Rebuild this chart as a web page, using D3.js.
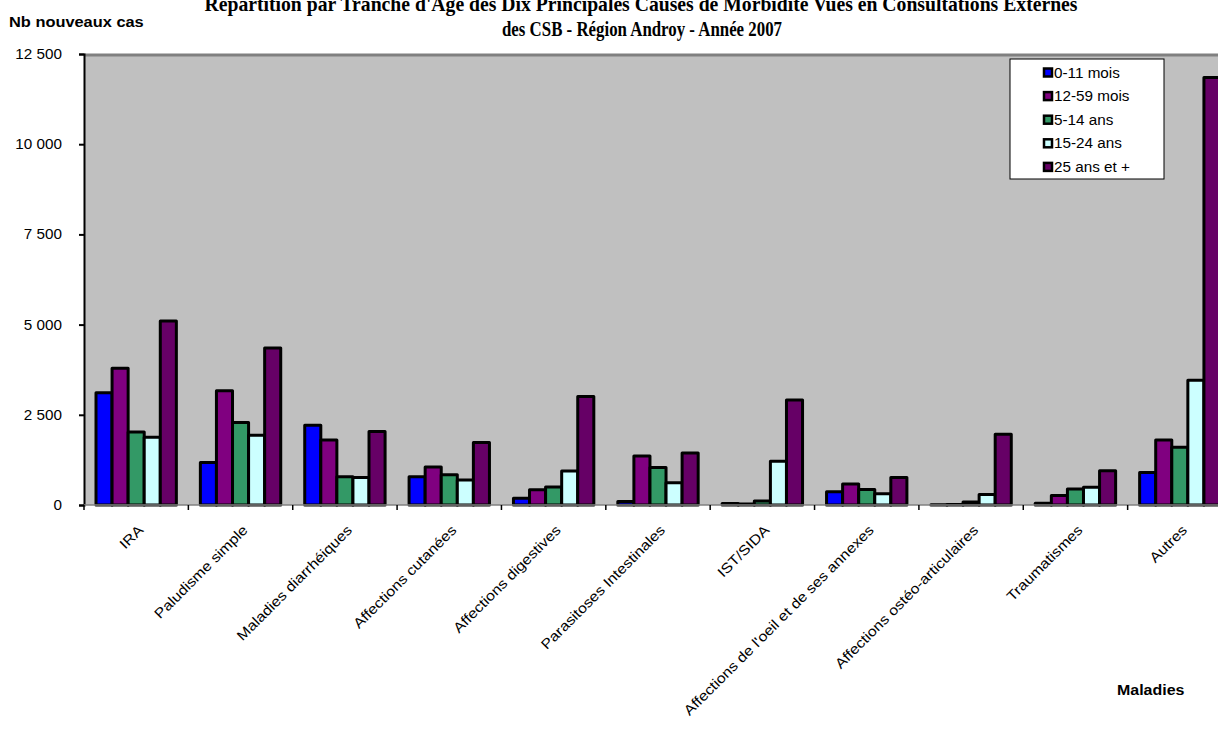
<!DOCTYPE html>
<html>
<head>
<meta charset="utf-8">
<script src="https://cdn.jsdelivr.net/npm/d3@7"></script>
<style>
  body { margin: 0; background: #fff; }
  svg { display: block; }
</style>
</head>
<body>
<div id="chart"></div>
<script>
const width = 1218,
    height = 753;

// Données
const maladies = ["IRA", "Paludisme simple", "Maladies diarrhéiques", "Affections cutanées",
    "Affections digestives", "Parasitoses Intestinales", "IST/SIDA",
    "Affections de l'oeil et de ses annexes", "Affections ostéo-articulaires", "Traumatismes", "Autres"];
const tranches = ["0-11 mois", "12-59 mois", "5-14 ans", "15-24 ans", "25 ans et +"];
const couleurs = ["#0000FF", "#800080", "#339966", "#CCFFFF", "#660066"];

const cas0_11 = [3110, 1180, 2210, 780, 190, 100, 40, 370, 10, 50, 900];
const cas12_59 = [3790, 3170, 1800, 1050, 420, 1360, 30, 580, 15, 260, 1800];
const cas5_14 = [2020, 2290, 780, 840, 500, 1040, 110, 430, 80, 440, 1600];
const cas15_24 = [1880, 1930, 760, 690, 940, 620, 1210, 310, 290, 490, 3460];
const cas25plus = [5100, 4350, 2040, 1730, 3010, 1440, 2910, 760, 1960, 950, 11850];
const series = [cas0_11, cas12_59, cas5_14, cas15_24, cas25plus];

const yTicks = [0, 2500, 5000, 7500, 10000, 12500];

const margin = { left: 84, top: 54 },
    plotW = 1148,
    plotH = 451;

// Ajuste la largeur du texte à celle du graphique d'origine
function stretch(sel, k) {
    sel.each(function () {
        const w = this.getComputedTextLength();
        d3.select(this).attr("textLength", w * k).attr("lengthAdjust", "spacingAndGlyphs");
    });
}

const svg = d3.select("#chart")
    .append("svg")
    .attr("width", width)
    .attr("height", height)
    .style("font-family", "Arial, 'Liberation Sans', sans-serif");

const x0 = d3.scaleBand()
    .domain(maladies)
    .range([0, plotW]);

const x1 = d3.scaleBand()
    .domain(d3.range(tranches.length))
    .range([x0.bandwidth() * 0.115, x0.bandwidth() * 0.885]);

const y = d3.scaleLinear()
    .domain([0, 12500])
    .range([plotH, 0]);

const g = svg.append("g")
    .attr("transform", `translate(${margin.left},${margin.top})`);

// Fond gris
g.append("rect")
    .attr("width", plotW)
    .attr("height", plotH)
    .attr("fill", "#C0C0C0");

g.append("line")
    .attr("x1", 0).attr("x2", plotW)
    .attr("y1", 1).attr("y2", 1)
    .attr("stroke", "#808080")
    .attr("stroke-width", 3);

// Barres
maladies.forEach((m, i) => {
    const grp = g.append("g").attr("transform", `translate(${x0(m)},0)`);
    grp.selectAll("rect")
        .data(series.map((s, k) => ({ k: k, v: s[i] })))
        .enter()
        .append("rect")
        .attr("x", d => x1(d.k))
        .attr("y", d => y(d.v))
        .attr("width", x1.bandwidth())
        .attr("height", d => plotH - y(d.v))
        .attr("fill", d => couleurs[d.k])
        .attr("stroke", "#000")
        .attr("stroke-width", 3)
        .attr("stroke-linejoin", "round");
});

// Axe Y
const fmt = v => d3.format(",")(v).replace(/,/g, " ");
const yAxis = d3.axisLeft(y)
    .tickValues(yTicks)
    .tickSize(5)
    .tickPadding(17)
    .tickFormat(fmt);

const ya = g.append("g").call(yAxis);
ya.select(".domain").attr("stroke", "#000").attr("stroke-width", 2);
ya.selectAll(".tick line").attr("stroke", "#000").attr("stroke-width", 2);
ya.selectAll(".tick text")
    .style("font-size", "14px")
    .attr("fill", "#000")
    .call(stretch, 1.09);

// Axe X
g.append("line")
    .attr("x1", 0).attr("x2", plotW)
    .attr("y1", plotH).attr("y2", plotH)
    .attr("stroke", "#808080")
    .attr("stroke-width", 1.5);

g.selectAll(".xtick")
    .data(maladies)
    .enter()
    .append("line")
    .attr("x1", d => x0(d)).attr("x2", d => x0(d))
    .attr("y1", plotH).attr("y2", plotH + 5)
    .attr("stroke", "#000")
    .attr("stroke-width", 1.5);

g.selectAll(".xlabel")
    .data(maladies)
    .enter()
    .append("text")
    .attr("transform", d => `translate(${x0(d) + x0.bandwidth() / 2 + 8},${plotH + 26}) rotate(-45)`)
    .attr("text-anchor", "end")
    .style("font-size", "14px")
    .attr("fill", "#000")
    .text(d => d)
    .call(stretch, 1.14);

// Titre
const titre = svg.append("text")
    .attr("text-anchor", "middle")
    .style("font-family", "'Liberation Serif', 'Times New Roman', serif")
    .style("font-weight", "bold")
    .style("font-size", "21px");
titre.append("tspan").attr("x", 641).attr("y", 11)
    .attr("textLength", 873).attr("lengthAdjust", "spacingAndGlyphs")
    .text("Répartition par Tranche d'Age des Dix Principales Causes de Morbidité Vues en Consultations Externes");
titre.append("tspan").attr("x", 642).attr("y", 36)
    .attr("textLength", 280).attr("lengthAdjust", "spacingAndGlyphs")
    .text("des CSB - Région Androy - Année 2007");

svg.append("text")
    .attr("x", 9).attr("y", 27)
    .style("font-weight", "bold")
    .style("font-size", "14px")
    .text("Nb nouveaux cas")
    .call(stretch, 1.17);

svg.append("text")
    .attr("x", 1117).attr("y", 695)
    .style("font-weight", "bold")
    .style("font-size", "14px")
    .text("Maladies")
    .call(stretch, 1.14);

// Légende
const legend = svg.append("g").attr("transform", "translate(1010,59)");
legend.append("rect")
    .attr("width", 154).attr("height", 120)
    .attr("fill", "#fff")
    .attr("stroke", "#000")
    .attr("stroke-width", 1);

const item = legend.selectAll(".item")
    .data(tranches)
    .enter()
    .append("g")
    .attr("transform", (d, i) => `translate(34,${13.5 + i * 23.6})`);
item.append("rect")
    .attr("x", 0).attr("y", -4)
    .attr("width", 8).attr("height", 8)
    .attr("fill", (d, i) => couleurs[i])
    .attr("stroke", "#000")
    .attr("stroke-width", 2.5);
item.append("text")
    .attr("x", 10).attr("y", 5)
    .style("font-size", "14px")
    .text(d => d)
    .call(stretch, 1.09);
</script>
</body>
</html>
